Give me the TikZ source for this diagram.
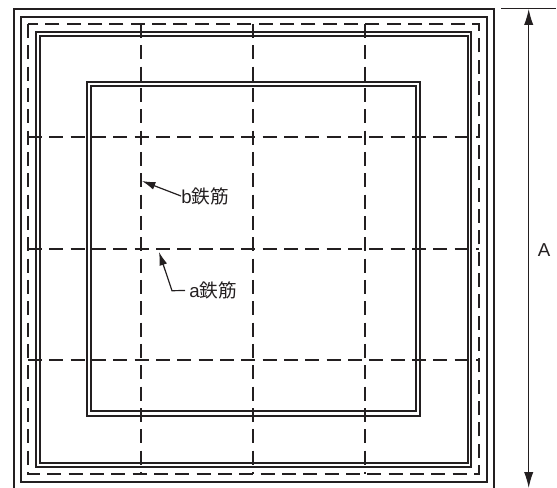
\documentclass[tikz,border=0pt]{standalone}
\usepackage{fontspec}
\setmainfont{Liberation Sans}
\newfontfamily\cjk{Noto Sans CJK JP}
\usetikzlibrary{arrows.meta}
\definecolor{ink}{HTML}{231F20}
\tikzset{
  x=0.75pt,y=-0.75pt,
  wall/.style={draw=ink,line width=1.6pt,line join=miter},
  wallthin/.style={draw=ink,line width=1.4pt},
  rebar/.style={draw=ink,line width=1.6pt,dash pattern=on 10.4pt off 5.6pt},
  leader/.style={draw=ink,line width=0.9pt,-{Latex[length=10pt,width=6pt]}},
  dim/.style={draw=ink,line width=0.9pt,{Latex[length=12pt,width=7pt]}-{Latex[length=12pt,width=7pt]}},
  lab/.style={inner sep=0pt,font=\fontsize{14pt}{16pt}\selectfont,text=ink}
}
\begin{document}
\begin{tikzpicture}
\useasboundingbox (0,0) rectangle (557,488);
% outer walls
\draw[wall] (14,488) -- (14,9) -- (494,9) -- (494,488);
\draw[wall] (21,17) rectangle (487,482);
% double squares
\draw[wall] (36,32) rectangle (471,467);
\draw[wall] (40,36) rectangle (468,463);
\draw[wall] (87,82) rectangle (420,416);
\draw[wallthin] (91,86) rectangle (416,411);
% rebars
\draw[rebar] (28,24) rectangle (479,474);
\foreach \yy in {137,249,360}{\draw[rebar] (28,\yy) -- (479,\yy);}
\foreach \xx in {141,253,365}{\draw[rebar] (\xx,24) -- (\xx,474);}
% dimension
\coordinate (dimtop) at (528.7,9);
\coordinate (dimbot) at (528.7,488);
\coordinate (tickl) at (501,9);
\coordinate (tickr) at (556,9);
\draw[draw=ink,line width=0.75pt] (tickl) -- (tickr);
\draw[dim] (dimtop) -- (dimbot);
\node[lab,anchor=center] (dimlab) at (544,250) {A};
% labels
\node[lab,anchor=west] (blab) at (181,196) {b{\cjk 鉄筋}};
\node[lab,anchor=west] (alab) at (189,290.5) {a{\cjk 鉄筋}};
\coordinate (btip) at (142,181);
\coordinate (atip) at (159,252);
\coordinate (abend) at (172,290.7);
\draw[leader] (blab.west) -- (btip);
\draw[leader] ([xshift=-3pt]alab.west) -- (abend) -- (atip);
\end{tikzpicture}
\end{document}
